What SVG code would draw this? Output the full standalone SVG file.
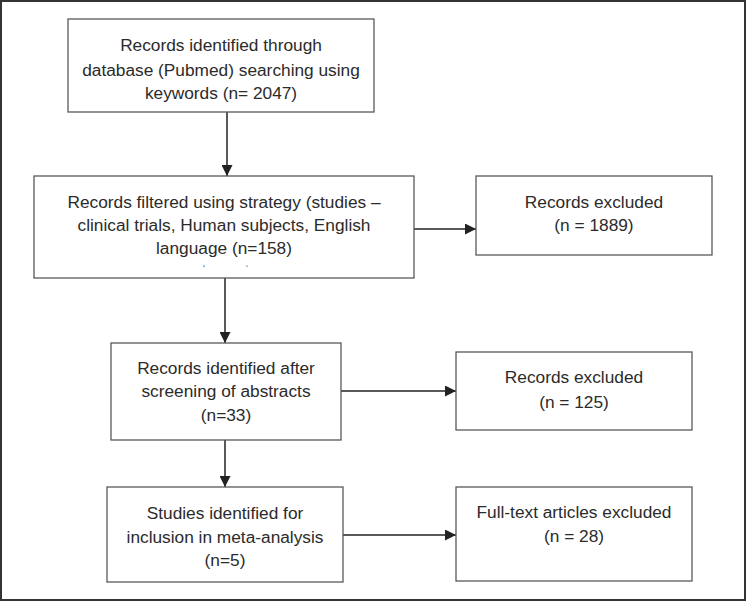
<svg xmlns="http://www.w3.org/2000/svg" width="747" height="602" viewBox="0 0 747 602">
<style>
.box{fill:#fff;stroke:#595959;stroke-width:1.3}
.t{font-family:"Liberation Sans",Arial,sans-serif;font-size:17.3px;fill:#2b2b2b;text-anchor:middle}
.c{stroke:#222;stroke-width:1.5;fill:none;marker-end:url(#ah)}
</style>
<defs>
<marker id="ah" viewBox="0 0 10 10" refX="10" refY="5" markerWidth="11" markerHeight="11" markerUnits="userSpaceOnUse" orient="auto">
<path d="M0,0 L10,5 L0,10 z" fill="#222"/>
</marker>
</defs>
<rect x="1" y="1" width="744" height="599" fill="#fff" stroke="#333" stroke-width="2"/>
<g id="connectors">
<line class="c" x1="227" y1="112" x2="227" y2="176"/>
<line class="c" x1="414" y1="229" x2="476" y2="229"/>
<line class="c" x1="225" y1="278" x2="225" y2="343"/>
<line class="c" x1="341" y1="391" x2="456" y2="391"/>
<line class="c" x1="225" y1="440" x2="225" y2="487"/>
<line class="c" x1="343" y1="535" x2="456" y2="535"/>
</g>
<g id="n1">
<rect class="box" x="68" y="19" width="306" height="93"/>
<text class="t" x="221" y="51">Records identified through</text>
<text class="t" x="221" y="76">database (Pubmed) searching using</text>
<text class="t" x="221" y="99">keywords (n= 2047)</text>
</g>
<g id="n2">
<rect class="box" x="34" y="176" width="380" height="102"/>
<text class="t" x="224" y="208">Records filtered using strategy (studies –</text>
<text class="t" x="224" y="231">clinical trials, Human subjects, English</text>
<text class="t" x="224" y="254">language (n=158)</text>
<text class="t" x="204" y="272" style="font-size:9px">ʻ</text>
<text class="t" x="247" y="272" style="font-size:9px">ˋ</text>
</g>
<g id="n3">
<rect class="box" x="476" y="176" width="236" height="79"/>
<text class="t" x="594" y="208">Records excluded</text>
<text class="t" x="594" y="231">(n = 1889)</text>
</g>
<g id="n4">
<rect class="box" x="111" y="343" width="230" height="97"/>
<text class="t" x="226" y="374">Records identified after</text>
<text class="t" x="226" y="397">screening of abstracts</text>
<text class="t" x="226" y="421">(n=33)</text>
</g>
<g id="n5">
<rect class="box" x="456" y="352" width="236" height="78"/>
<text class="t" x="574" y="383">Records excluded</text>
<text class="t" x="574" y="408">(n = 125)</text>
</g>
<g id="n6">
<rect class="box" x="107" y="487" width="236" height="95"/>
<text class="t" x="225" y="519">Studies identified for</text>
<text class="t" x="225" y="543">inclusion in meta-analysis</text>
<text class="t" x="225" y="566">(n=5)</text>
</g>
<g id="n7">
<rect class="box" x="456" y="487" width="236" height="94"/>
<text class="t" x="574" y="518">Full-text articles excluded</text>
<text class="t" x="574" y="542">(n = 28)</text>
</g>
</svg>
